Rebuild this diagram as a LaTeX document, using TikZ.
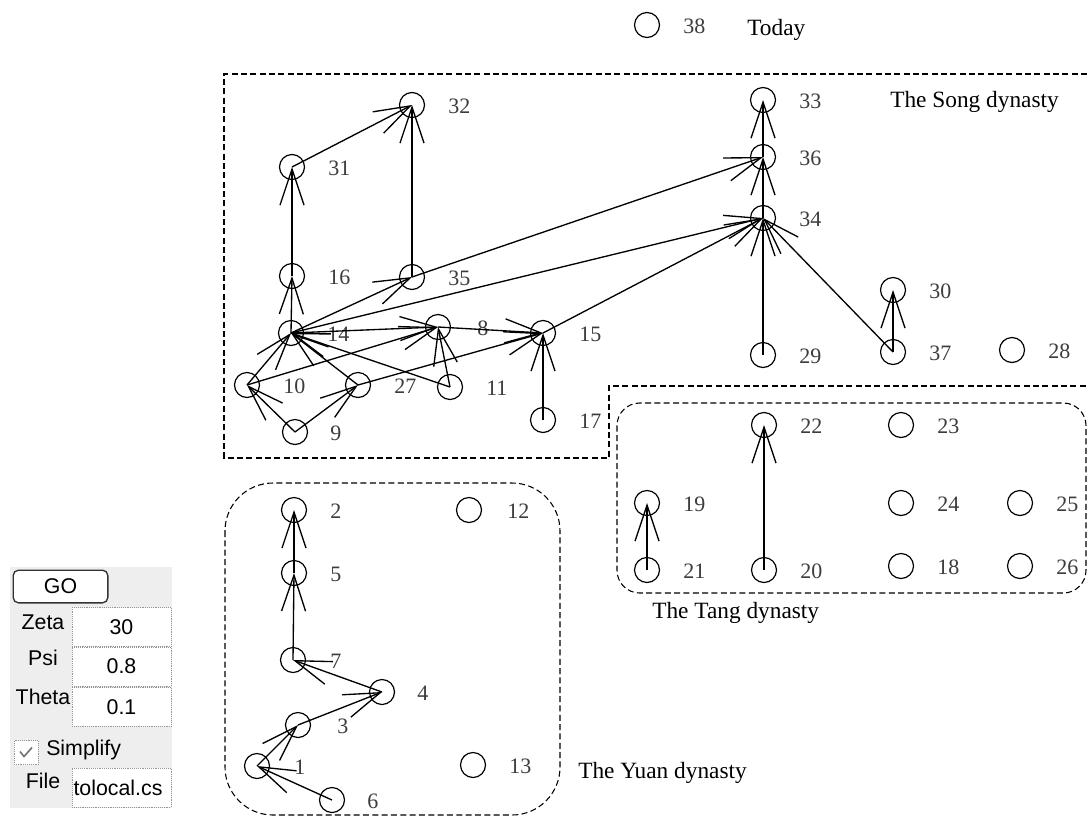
\documentclass[tikz,border=0pt]{standalone}
\usepackage{fontspec}
\setmainfont{Liberation Serif}
\setsansfont{Liberation Sans}
\usepackage{tikz}
\usetikzlibrary{arrows.meta}
\definecolor{panel}{RGB}{238,238,238}
\definecolor{fieldline}{RGB}{150,150,150}
\definecolor{numgray}{RGB}{60,60,60}

\begin{document}
\begin{tikzpicture}[
  x=0.75pt, y=-0.75pt,
  vertex/.style={circle, draw, line width=0.9pt, minimum size=18.75pt, inner sep=0pt},
  num/.style={anchor=west, inner sep=0pt, text=numgray, font=\fontsize{16.5}{18}\selectfont},
  era/.style={anchor=base west, inner sep=0pt, font=\fontsize{17.5}{20}\selectfont},
  region/.style={draw, dash pattern=on 4.5pt off 2.5pt, line width=0.8pt},
  arrow/.style={-{Straight Barb[length=27pt,width=18pt]}, line width=1pt},
  ui/.style={inner sep=0pt, font=\sffamily\fontsize{16}{18}\selectfont},
  field/.style={draw=fieldline, densely dotted, fill=white, minimum width=74pt,
    minimum height=29pt, inner sep=0pt, font=\sffamily\fontsize{16}{18}\selectfont}
]
\useasboundingbox (0,0) rectangle (1087,818);

\draw[region] (1087,74) -- (224,74) -- (224,458) -- (609,458) -- (609,386) -- (1087,386);
\draw[region, rounded corners=17pt] (617,403) rectangle (1086,593);
\draw[region, rounded corners=36pt] (225,483) rectangle (560,815);

\node[era] (today) at (747,35) {Today};
\node[era] (song) at (890,107) {The Song dynasty};
\node[era] (tang) at (652,618) {The Tang dynasty};
\node[era] (yuan) at (578,778) {The Yuan dynasty};

\node[vertex] (n38) at (647,25) {}; \node[num] (t38) at (683,26) {38};
\node[vertex] (n33) at (763,100) {}; \node[num] (t33) at (799,101) {33};
\node[vertex] (n36) at (763,157) {}; \node[num] (t36) at (799,158) {36};
\node[vertex] (n34) at (763,218) {}; \node[num] (t34) at (799,219) {34};
\node[vertex] (n29) at (763,355) {}; \node[num] (t29) at (799,356) {29};
\node[vertex] (n30) at (893,290) {}; \node[num] (t30) at (929,291) {30};
\node[vertex] (n37) at (893,352) {}; \node[num] (t37) at (929,353) {37};
\node[vertex] (n28) at (1012,350) {}; \node[num] (t28) at (1048,351) {28};
\node[vertex] (n32) at (412,105) {}; \node[num] (t32) at (448,106) {32};
\node[vertex] (n31) at (292,167) {}; \node[num] (t31) at (328,168) {31};
\node[vertex] (n16) at (292,276) {}; \node[num] (t16) at (328,277) {16};
\node[vertex] (n35) at (412,277) {}; \node[num] (t35) at (448,278) {35};
\node[vertex] (n14) at (291,333) {}; \node[num] (t14) at (327,334) {14};
\node[vertex] (n8) at (438,327) {}; \node[num] (t8) at (477,328) {8};
\node[vertex] (n15) at (543,333) {}; \node[num] (t15) at (579,334) {15};
\node[vertex] (n10) at (247,385) {}; \node[num] (t10) at (283,386) {10};
\node[vertex] (n27) at (358,385) {}; \node[num] (t27) at (394,386) {27};
\node[vertex] (n11) at (450,387) {}; \node[num] (t11) at (486,388) {11};
\node[vertex] (n9) at (295,432) {}; \node[num] (t9) at (330,433) {9};
\node[vertex] (n17) at (543,420) {}; \node[num] (t17) at (579,421) {17};
\node[vertex] (n22) at (764,425) {}; \node[num] (t22) at (800,426) {22};
\node[vertex] (n23) at (901,425) {}; \node[num] (t23) at (937,426) {23};
\node[vertex] (n19) at (647,503) {}; \node[num] (t19) at (683,504) {19};
\node[vertex] (n24) at (901,503) {}; \node[num] (t24) at (937,504) {24};
\node[vertex] (n25) at (1020,503) {}; \node[num] (t25) at (1056,504) {25};
\node[vertex] (n21) at (647,570) {}; \node[num] (t21) at (683,571) {21};
\node[vertex] (n20) at (764,570) {}; \node[num] (t20) at (800,571) {20};
\node[vertex] (n18) at (901,566) {}; \node[num] (t18) at (937,567) {18};
\node[vertex] (n26) at (1020,566) {}; \node[num] (t26) at (1056,567) {26};
\node[vertex] (n2) at (294,510) {}; \node[num] (t2) at (330,511) {2};
\node[vertex] (n5) at (294,573) {}; \node[num] (t5) at (330,574) {5};
\node[vertex] (n7) at (293,660) {}; \node[num] (t7) at (330,661) {7};
\node[vertex] (n4) at (382,692) {}; \node[num] (t4) at (417,693) {4};
\node[vertex] (n3) at (298,725) {}; \node[num] (t3) at (337,726) {3};
\node[vertex] (n1) at (257,766) {}; \node[num] (t1) at (294,767) {1};
\node[vertex] (n6) at (332,800) {}; \node[num] (t6) at (367,801) {6};
\node[vertex] (n12) at (469,510) {}; \node[num] (t12) at (507,511) {12};
\node[vertex] (n13) at (473,765) {}; \node[num] (t13) at (509,766) {13};

\draw[arrow] (n31.center) -- (n32.center);
\draw[arrow] (n35.center) -- (n32.center);
\draw[arrow] (n16.center) -- (n31.center);
\draw[arrow] (n14.center) -- (n16.center);
\draw[arrow] (n14.center) -- (n35.center);
\draw[arrow] (n35.center) -- (n36.center);
\draw[arrow] (n14.center) -- (n34.center);
\draw[arrow] (n15.center) -- (n34.center);
\draw[arrow] (n37.center) -- (n34.center);
\draw[arrow] (n29.center) -- (n34.center);
\draw[arrow] (n34.center) -- (n36.center);
\draw[arrow] (n36.center) -- (n33.center);
\draw[arrow] (n37.center) -- (n30.center);
\draw[arrow] (n10.center) -- (n14.center);
\draw[arrow] (n27.center) -- (n14.center);
\draw[arrow] (n11.center) -- (n14.center);
\draw[arrow] (n9.center) -- (n10.center);
\draw[arrow] (n9.center) -- (n27.center);
\draw[arrow] (n10.center) -- (n8.center);
\draw[arrow] (n14.center) -- (n8.center);
\draw[arrow] (n11.center) -- (n8.center);
\draw[arrow] (n8.center) -- (n15.center);
\draw[arrow] (n27.center) -- (n15.center);
\draw[arrow] (n17.center) -- (n15.center);
\draw[arrow] (n21.center) -- (n19.center);
\draw[arrow] (n20.center) -- (n22.center);
\draw[arrow] (n5.center) -- (n2.center);
\draw[arrow] (n7.center) -- (n5.center);
\draw[arrow] (n4.center) -- (n7.center);
\draw[arrow] (n3.center) -- (n4.center);
\draw[arrow] (n1.center) -- (n3.center);
\draw[arrow] (n6.center) -- (n1.center);

\fill[panel] (10,567) rectangle (172,808);
\node[ui, draw=black!80, line width=1pt, rounded corners=4pt, fill=white,
  minimum width=71pt, minimum height=24.5pt] (go) at (60.5,586.5) {GO};
\node[ui] (zetal) at (43,622) {Zeta};
\node[field] (zeta) at (121.5,627) {30};
\node[ui] (psil) at (43,658) {Psi};
\node[field] (psi) at (121.5,666.5) {0.8};
\node[ui] (thetal) at (43,697) {Theta};
\node[field] (theta) at (121.5,707) {0.1};
\node[field, minimum width=18pt, minimum height=18pt] (chk) at (26,752.5) {};
\draw[black!55, line width=1.2pt] ([shift={(-6,-1)}]chk.center) -- ([shift={(-2,4)}]chk.center) -- ([shift={(6,-5)}]chk.center);
\node[ui, anchor=west] (simplify) at (46,750) {Simplify};
\node[ui] (filel) at (43,781) {File};
\node[field, text width=72pt, align=left] (file) at (121.5,787.5) {tolocal.cs};
\end{tikzpicture}
\end{document}
